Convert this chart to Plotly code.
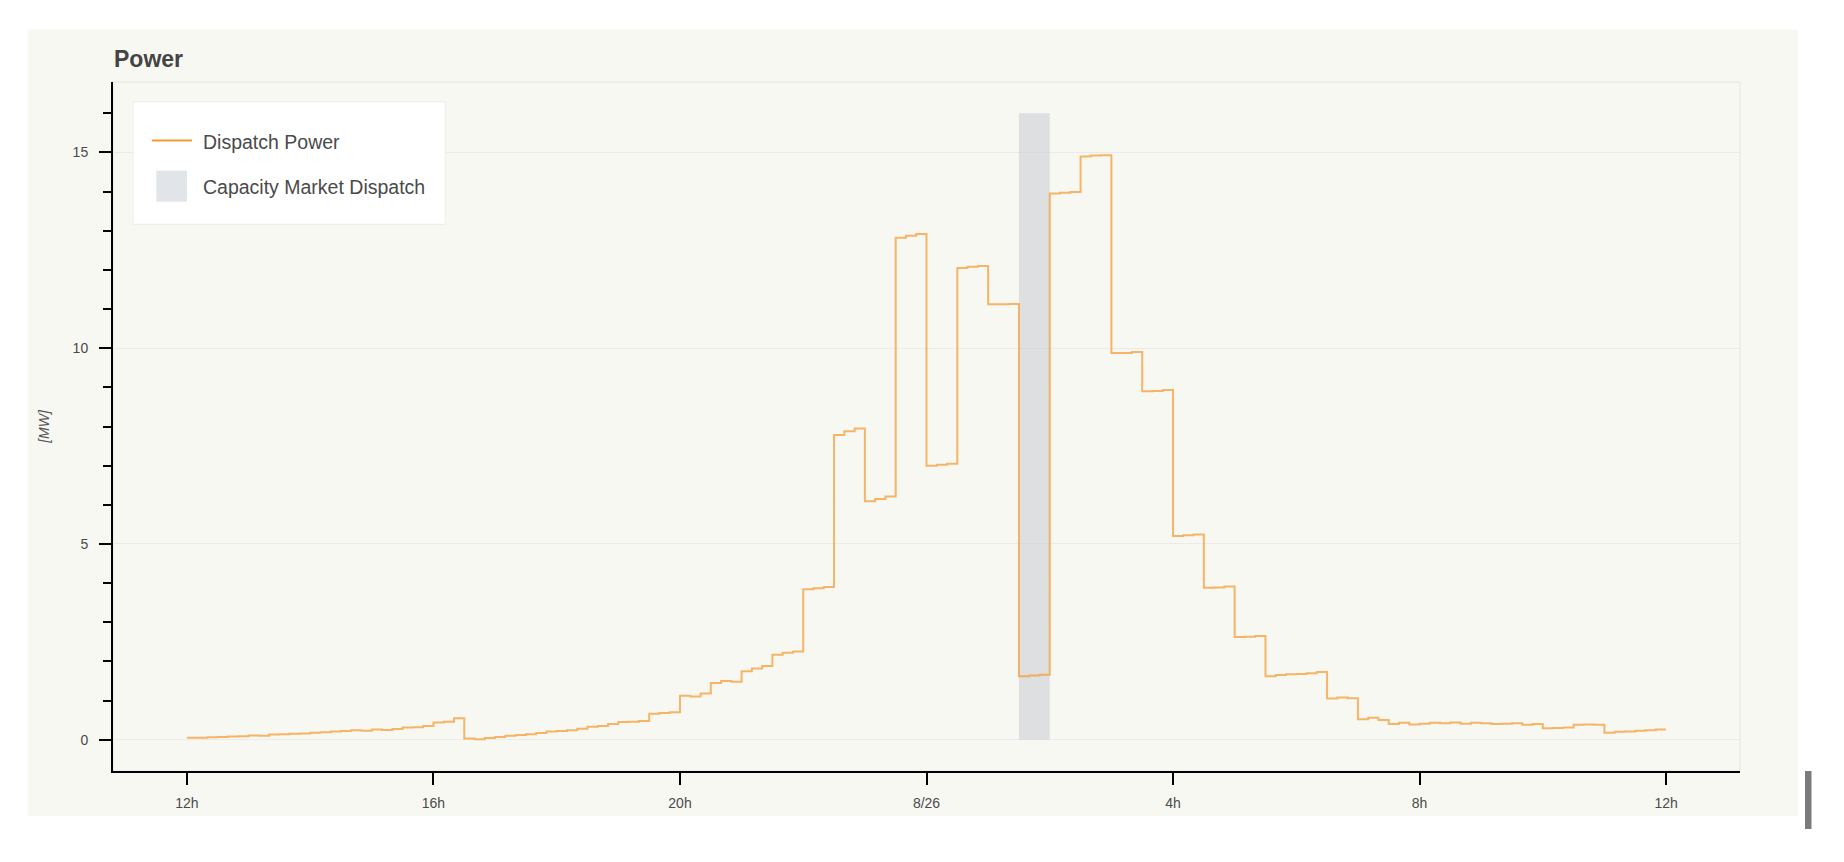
import pandas as pd
import plotly.graph_objects as go

# dispatch power, 10-minute readings from 8/25 12:00 to 8/26 12:00
start_time = "2023-08-25 12:00"
power_mw = [
    0.05, 0.05, 0.06, 0.07, 0.08, 0.09,       # 12h
    0.11, 0.10, 0.13, 0.14, 0.15, 0.16,       # 13h
    0.18, 0.19, 0.21, 0.22, 0.24, 0.23,       # 14h
    0.26, 0.25, 0.27, 0.31, 0.32, 0.35,       # 15h
    0.44, 0.46, 0.55, 0.03, 0.01, 0.04,       # 16h
    0.07, 0.10, 0.12, 0.14, 0.17, 0.21,       # 17h
    0.22, 0.24, 0.28, 0.33, 0.35, 0.40,       # 18h
    0.45, 0.46, 0.48, 0.66, 0.68, 0.70,       # 19h
    1.12, 1.10, 1.18, 1.45, 1.50, 1.48,       # 20h
    1.75, 1.82, 1.88, 2.17, 2.22, 2.25,       # 21h
    3.84, 3.87, 3.90, 7.78, 7.88, 7.95,       # 22h
    6.09, 6.15, 6.21, 12.82, 12.87, 12.92,    # 23h
    7.00, 7.02, 7.05, 12.05, 12.08, 12.10,    # 0h
    11.12, 11.12, 11.13, 1.62, 1.64, 1.66,    # 1h
    13.95, 13.97, 13.99, 14.90, 14.92, 14.93, # 2h
    9.88, 9.88, 9.90, 8.90, 8.91, 8.93,       # 3h
    5.20, 5.22, 5.24, 3.88, 3.89, 3.91,       # 4h
    2.62, 2.63, 2.65, 1.62, 1.65, 1.67,       # 5h
    1.68, 1.70, 1.73, 1.05, 1.08, 1.06,       # 6h
    0.52, 0.56, 0.50, 0.40, 0.43, 0.39,       # 7h
    0.41, 0.43, 0.42, 0.44, 0.41, 0.43,       # 8h
    0.42, 0.40, 0.41, 0.42, 0.38, 0.40,       # 9h
    0.29, 0.30, 0.31, 0.38, 0.39, 0.38,       # 10h
    0.18, 0.20, 0.21, 0.23, 0.24, 0.26,       # 11h
    0.26,                                     # 12h
]
times = pd.date_range(start_time, periods=len(power_mw), freq="10min")

# capacity market dispatch window
band_start = "2023-08-26 01:30"
band_end = "2023-08-26 02:00"
band_bottom = 0
band_top = 16

x_tickvals = ["2023-08-25 12:00", "2023-08-25 16:00", "2023-08-25 20:00",
              "2023-08-26 00:00", "2023-08-26 04:00", "2023-08-26 08:00",
              "2023-08-26 12:00"]
x_ticktext = ["12h", "16h", "20h", "8/26", "4h", "8h", "12h"]
x_range = ["2023-08-25 10:48", "2023-08-26 13:12"]
y_range = [-0.8, 16.8]

W, H = 1844, 862
L, R, T, B = 112.7, 1740, 82, 771
FONT = "Liberation Sans"
CREAM = "#f8f8f3"


def px(x):
    return (x - L) / (R - L)


def py(y):
    return (B - y) / (B - T)


fig = go.Figure()

fig.add_trace(go.Scatter(
    x=[band_start, band_end, band_end, band_start, band_start],
    y=[band_bottom, band_bottom, band_top, band_top, band_bottom],
    fill="toself", mode="none",
    fillcolor="rgba(205,209,213,0.62)",
    name="Capacity Market Dispatch", showlegend=False,
))
fig.add_trace(go.Scatter(
    x=times, y=power_mw, mode="lines",
    line=dict(color="rgba(245,158,55,0.75)", width=2, shape="hv"),
    name="Dispatch Power", showlegend=False,
))

shapes = [
    # cream panel behind the whole plot
    dict(type="rect", xref="paper", yref="paper", layer="below",
         x0=px(27.5), x1=px(1798), y0=py(816), y1=py(29.5),
         fillcolor=CREAM, line=dict(width=0)),
    # plot outline
    dict(type="rect", xref="paper", yref="paper", layer="below",
         x0=0, x1=1, y0=0, y1=1, line=dict(color="#e4e4e4", width=1)),
    # legend box
    dict(type="rect", xref="paper", yref="paper", layer="above",
         x0=px(132.7), x1=px(445), y0=py(224.3), y1=py(101.7),
         fillcolor="white", line=dict(color="#ececec", width=1)),
    # legend line sample
    dict(type="line", xref="paper", yref="paper", layer="above",
         x0=px(151.7), x1=px(191.7), y0=py(140.5), y1=py(140.5),
         line=dict(color="#f39c35", width=2)),
    # legend patch
    dict(type="rect", xref="paper", yref="paper", layer="above",
         x0=px(156), x1=px(186.7), y0=py(201.7), y1=py(170.7),
         fillcolor="#e1e4e8", line=dict(width=0)),
    # scrollbar sliver at the right edge of the page
    dict(type="rect", xref="paper", yref="paper", layer="above",
         x0=px(1805), x1=px(1811.5), y0=py(829), y1=py(771),
         fillcolor="#7a7a7a", line=dict(width=0)),
]

annotations = [
    dict(text="<b>Power</b>", xref="paper", yref="paper", x=px(112), y=py(58.7),
         xanchor="left", yanchor="middle", showarrow=False,
         font=dict(family=FONT, size=23, color="#444444")),
    dict(text="Dispatch Power", xref="paper", yref="paper", x=px(201), y=py(142.3),
         xanchor="left", yanchor="middle", showarrow=False,
         font=dict(family=FONT, size=19.5, color="#4a4a4a")),
    dict(text="Capacity Market Dispatch", xref="paper", yref="paper", x=px(201), y=py(186.7),
         xanchor="left", yanchor="middle", showarrow=False,
         font=dict(family=FONT, size=19.5, color="#4a4a4a")),
]

fig.update_layout(
    width=W, height=H,
    margin=dict(l=L, r=W - R, t=T, b=H - B, pad=0),
    paper_bgcolor="white", plot_bgcolor=CREAM,
    showlegend=False,
    shapes=shapes, annotations=annotations,
    font=dict(family=FONT, size=14, color="#444444"),
)

fig.update_xaxes(
    type="date", range=x_range,
    tickvals=x_tickvals, ticktext=x_ticktext,
    showgrid=False, zeroline=False,
    showline=True, linecolor="black", linewidth=2,
    ticks="outside", ticklen=12, tickwidth=1.5, tickcolor="black",
    ticklabelstandoff=6,
    tickfont=dict(family=FONT, size=14, color="#4a4a4a"),
)
fig.update_yaxes(
    range=y_range, tick0=0, dtick=5,
    showgrid=True, gridcolor="#ebebeb", gridwidth=1, zeroline=False,
    showline=True, linecolor="black", linewidth=2,
    ticks="outside", ticklen=12, tickwidth=1.5, tickcolor="black",
    ticklabelstandoff=8,
    tickfont=dict(family=FONT, size=14, color="#4a4a4a"),
    minor=dict(dtick=1, ticks="outside", ticklen=8, tickwidth=1.5,
               tickcolor="black", showgrid=False),
    title=dict(text="<i>[MW]</i>", standoff=20,
               font=dict(family=FONT, size=14, color="#555555")),
)

fig.write_html("out.html", config={"displayModeBar": False},
               post_script="document.body.style.margin='0';")
